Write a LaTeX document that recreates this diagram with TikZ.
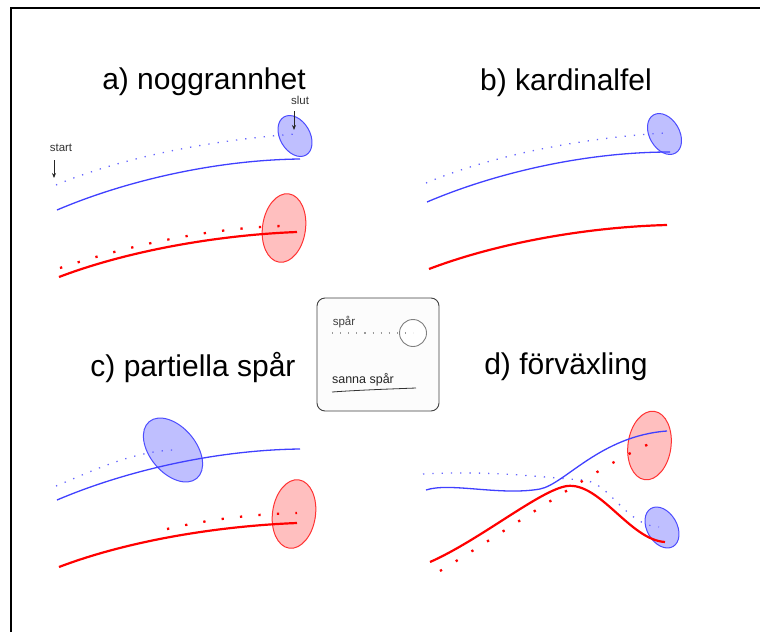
\documentclass[tikz,border=0pt]{standalone}
\usepackage{fontspec}
\setmainfont{Liberation Sans}
\usetikzlibrary{arrows.meta}
\begin{document}
\begin{tikzpicture}[x=1pt,y=-1pt,
  title/.style={font=\fontsize{30pt}{36pt}\selectfont, anchor=base, inner sep=0pt},
  small/.style={font=\fontsize{11.5pt}{14pt}\selectfont, anchor=base, inner sep=0pt, text=black!80},
  bline/.style={draw=blue!75, line width=1.3pt},
  rline/.style={draw=red, line width=2.2pt},
  bdots/.style={draw=blue!60, line width=1.3pt, dash pattern=on 1.3pt off 8pt},
  rdots/.style={draw=red, line width=2.3pt, dash pattern=on 2.3pt off 16.2pt},
  gdots/.style={draw=black!40, line width=1.1pt, dash pattern=on 1.1pt off 7pt},
  bell/.style={fill=blue!25, draw=blue!70, line width=1pt},
  rell/.style={fill=red!25, draw=red!80, line width=1pt},
  pointer/.style={-{Stealth[length=5pt,width=4pt]}, line width=0.9pt, black!85},
]
\useasboundingbox (0,0) rectangle (760,632);
\draw[line width=1.5pt] (11,632) -- (11,8) -- (760,8);

% ---------- panel a ----------
\node[title] (ta) at (204,89) {a) noggrannhet};
\draw[bell, rotate around={30:(295,136)}] (295,136) ellipse [x radius=15, y radius=22];
\draw[rell, rotate around={-8:(284,228)}] (284,228) ellipse [x radius=21.5, y radius=34.5];
\draw[bdots] (56,185) .. controls (120,158) and (210,140) .. (296,134);
\draw[bline] (57,210) .. controls (125,181) and (215,160) .. (300,159);
\draw[rline] (59,277) .. controls (130,250) and (220,235) .. (297,232);
\draw[rdots] (60,268) .. controls (130,245) and (210,228) .. (282,226);
\node[small] (slut) at (300,104) {slut};
\node[small] (start) at (61,151) {start};
\coordinate (slutend) at (294,130);
\coordinate (startend) at (54,178);
\draw[pointer] (294,111) -- (slutend);
\draw[pointer] (54,160) -- (startend);

% ---------- panel b ----------
\node[title] (tb) at (566,90) {b) kardinalfel};
\draw[bell, rotate around={30:(664.5,134)}] (664.5,134) ellipse [x radius=15, y radius=22];
\draw[bdots] (426,183) .. controls (490,156) and (580,138) .. (665,133);
\draw[bline] (427,202) .. controls (495,173) and (585,152) .. (670,152);
\draw[rline] (429,269) .. controls (500,242) and (590,227) .. (667,225);

% ---------- panel c ----------
\node[title] (tc) at (193,376) {c) partiella spår};
\draw[bell, rotate around={40:(173,450)}] (173,450) ellipse [x radius=23, y radius=37];
\draw[rell, rotate around={-8:(294,514)}] (294,514) ellipse [x radius=21.5, y radius=34.5];
\draw[bdots] (56,486) .. controls (90,472) and (130,452) .. (173,450);
\draw[bline] (57,500) .. controls (125,471) and (215,450) .. (300,449);
\draw[rline] (59,567) .. controls (130,540) and (220,526) .. (297,523);
\draw[rdots] (167,529) .. controls (210,519) and (255,514) .. (297,513);

% ---------- panel d ----------
\node[title] (td) at (566,374) {d) förväxling};
\draw[rell, rotate around={-8:(649.5,445.5)}] (649.5,445.5) ellipse [x radius=21.5, y radius=34.5];
\draw[bell, rotate around={30:(662,527.5)}] (662,527.5) ellipse [x radius=15, y radius=22];
\draw[bdots] (423,474) .. controls (490,470) and (550,478) .. (583,480) .. controls (610,482) and (625,525) .. (659,527);
\draw[bline] (426,490) .. controls (450,482) and (500,496) .. (540,489) .. controls (565,484) and (600,436) .. (667,431);
\draw[rline] (430,562) .. controls (480,540) and (540,490) .. (567,486) .. controls (600,482) and (630,540) .. (665,542);
\draw[rdots] (440,571) .. controls (520,522) and (600,466) .. (649,444);

% ---------- legend ----------
\node[draw=black!75, line width=0.9pt, rounded corners=8pt, fill=black!1, minimum width=122pt, minimum height=113pt, inner sep=0pt] (legend) at (378,354.5) {};
\node[small, text=black!75] (lspar) at (344,325) {spår};
\node[circle, draw=black!50, line width=0.9pt, fill=white, minimum size=27pt, inner sep=0pt] (circ) at (413,333) {};
\coordinate (ldotstart) at (332,333);
\draw[gdots] (ldotstart) -- (circ.center);
\node[small, font=\fontsize{12.5pt}{15pt}\selectfont, text=black!85] (lsanna) at (363,383) {sanna spår};
\coordinate (ul1) at (332,392);
\coordinate (ul2) at (416,388);
\draw[black!80, line width=0.8pt] (ul1) .. controls (360,390) and (390,389) .. (ul2);
\end{tikzpicture}
\end{document}
